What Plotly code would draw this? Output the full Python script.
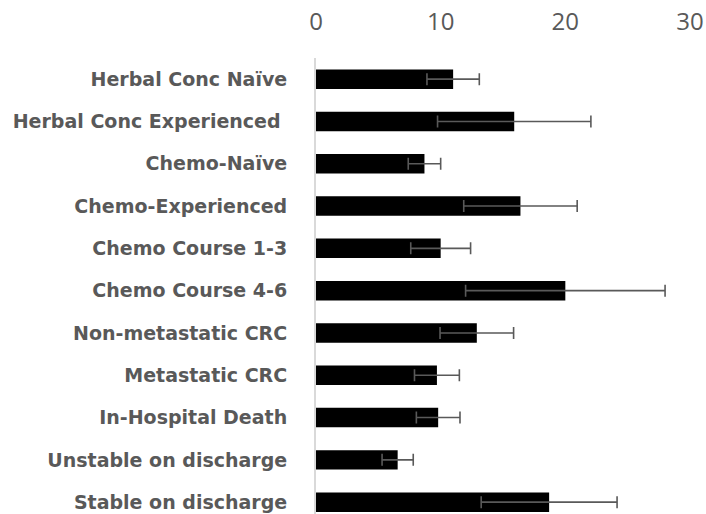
import plotly.graph_objects as go

# Categories, top to bottom
categories = [
    "Herbal Conc Naïve",
    "Herbal Conc Experienced\u00a0",
    "Chemo-Naïve",
    "Chemo-Experienced",
    "Chemo Course 1-3",
    "Chemo Course 4-6",
    "Non-metastatic CRC",
    "Metastatic CRC",
    "In-Hospital Death",
    "Unstable on discharge",
    "Stable on discharge",
]
means = [11.0, 15.9, 8.7, 16.4, 10.0, 20.0, 12.9, 9.7, 9.8, 6.55, 18.7]
errors = [2.1, 6.15, 1.3, 4.55, 2.4, 8.0, 2.95, 1.8, 1.75, 1.25, 5.45]
x_ticks = [0, 10, 20, 30]

GREY = "#595959"

fig = go.Figure()

fig.add_trace(go.Bar(
    x=means,
    y=categories,
    orientation="h",
    marker={"color": "black", "line": {"width": 0}},
    error_x={
        "type": "data",
        "array": errors,
        "visible": True,
        "color": GREY,
        "thickness": 1.6,
        "width": 6,
    },
    showlegend=False,
))

fig.update_layout(
    width=706,
    height=514,
    margin={"l": 316, "r": 16, "t": 58, "b": 0, "autoexpand": False},
    plot_bgcolor="white",
    paper_bgcolor="white",
    bargap=0.54,
    font={"family": "Open Sans, sans-serif", "color": GREY},
    xaxis={
        "side": "top",
        "range": [0, 30],
        "tickvals": x_ticks,
        "showgrid": False,
        "zeroline": False,
        "showline": False,
        "ticks": "",
        "ticklabelstandoff": 22,
        "ticklabeloverflow": "allow",
        "tickfont": {"size": 24, "color": GREY},
        "automargin": False,
    },
    yaxis={
        "range": [10.28, -0.5],
        "showgrid": False,
        "zeroline": False,
        "showline": True,
        "linecolor": "#d9d9d9",
        "linewidth": 2,
        "ticks": "",
        "ticklabelstandoff": 23,
        "tickfont": {"size": 19, "family": "DejaVu Sans", "weight": "bold", "color": GREY},
        "automargin": False,
    },
)

# drop the default body margin so the figure fills the window
fig.write_html(
    "out.html",
    config={"displayModeBar": False},
    post_script="document.body.style.margin='0';document.body.style.overflow='hidden';",
)
